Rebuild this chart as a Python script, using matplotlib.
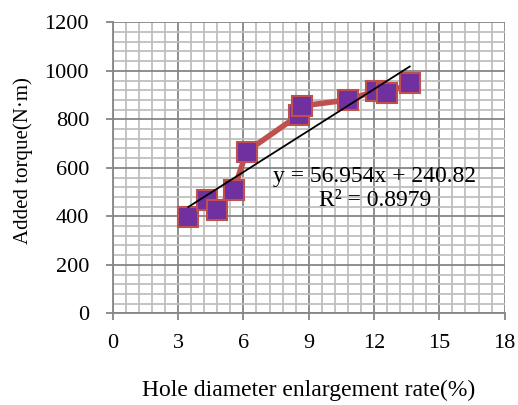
import matplotlib.pyplot as plt
import numpy as np
from matplotlib.ticker import MultipleLocator

plt.rcParams['font.family'] = ['Liberation Serif', 'DejaVu Serif']

# data
rate = [3.47, 4.34, 4.77, 5.56, 6.15, 8.55, 8.67, 10.81, 12.1, 12.6, 13.64]
torque = [396, 467, 426, 509, 667, 818, 855, 880, 918, 907, 949]
slope = 56.954
intercept = 240.82
eq_text = "y = 56.954x + 240.82\nR\u00b2 = 0.8979"

fig = plt.figure(figsize=(5.18, 4.05), dpi=100)
ax = fig.add_axes([0.2176, 0.2264, 0.7567, 0.7185])

ax.plot(rate, torque, color="#C0504D", linewidth=4, marker="s", markersize=15,
        markerfacecolor="#7030A0", markeredgecolor="#C0504D", markeredgewidth=1.5,
        zorder=3)

xt = np.array([min(rate), max(rate)])
ax.plot(xt, slope * xt + intercept, color="black", linewidth=1.3, zorder=4)

ax.text(12.03, 515, eq_text, ha="center", va="center", fontsize=17,
        linespacing=1.2, zorder=5)

ax.set_xlim(0, 18)
ax.set_ylim(0, 1200)
ax.xaxis.set_major_locator(MultipleLocator(3))
ax.xaxis.set_minor_locator(MultipleLocator(0.6))
ax.yaxis.set_major_locator(MultipleLocator(200))
ax.yaxis.set_minor_locator(MultipleLocator(40))

ax.grid(which="major", color="#868686", linewidth=1.3)
ax.grid(which="minor", color="#BFBFBF", linewidth=1.3)
ax.set_axisbelow(True)

for side in ["top", "right"]:
    ax.spines[side].set_visible(False)
for side in ["left", "bottom"]:
    ax.spines[side].set_color("#868686")
    ax.spines[side].set_linewidth(1.3)

ax.tick_params(which="major", direction="out", length=5, width=1.3,
               color="#868686", labelsize=16)
ax.tick_params(axis="x", pad=10)
ax.tick_params(axis="y", pad=12)
ax.tick_params(which="minor", length=0)

fig.text(308.7 / 518, 1 - 396 / 405, "Hole diameter enlargement rate(%)",
         ha="center", va="baseline", fontsize=17)
fig.text(23 / 518, 1 - 161 / 405, "Added torque(N\u00b7m)", rotation=90,
         ha="center", va="center", fontsize=15)

fig.savefig("out.png", dpi=100)
